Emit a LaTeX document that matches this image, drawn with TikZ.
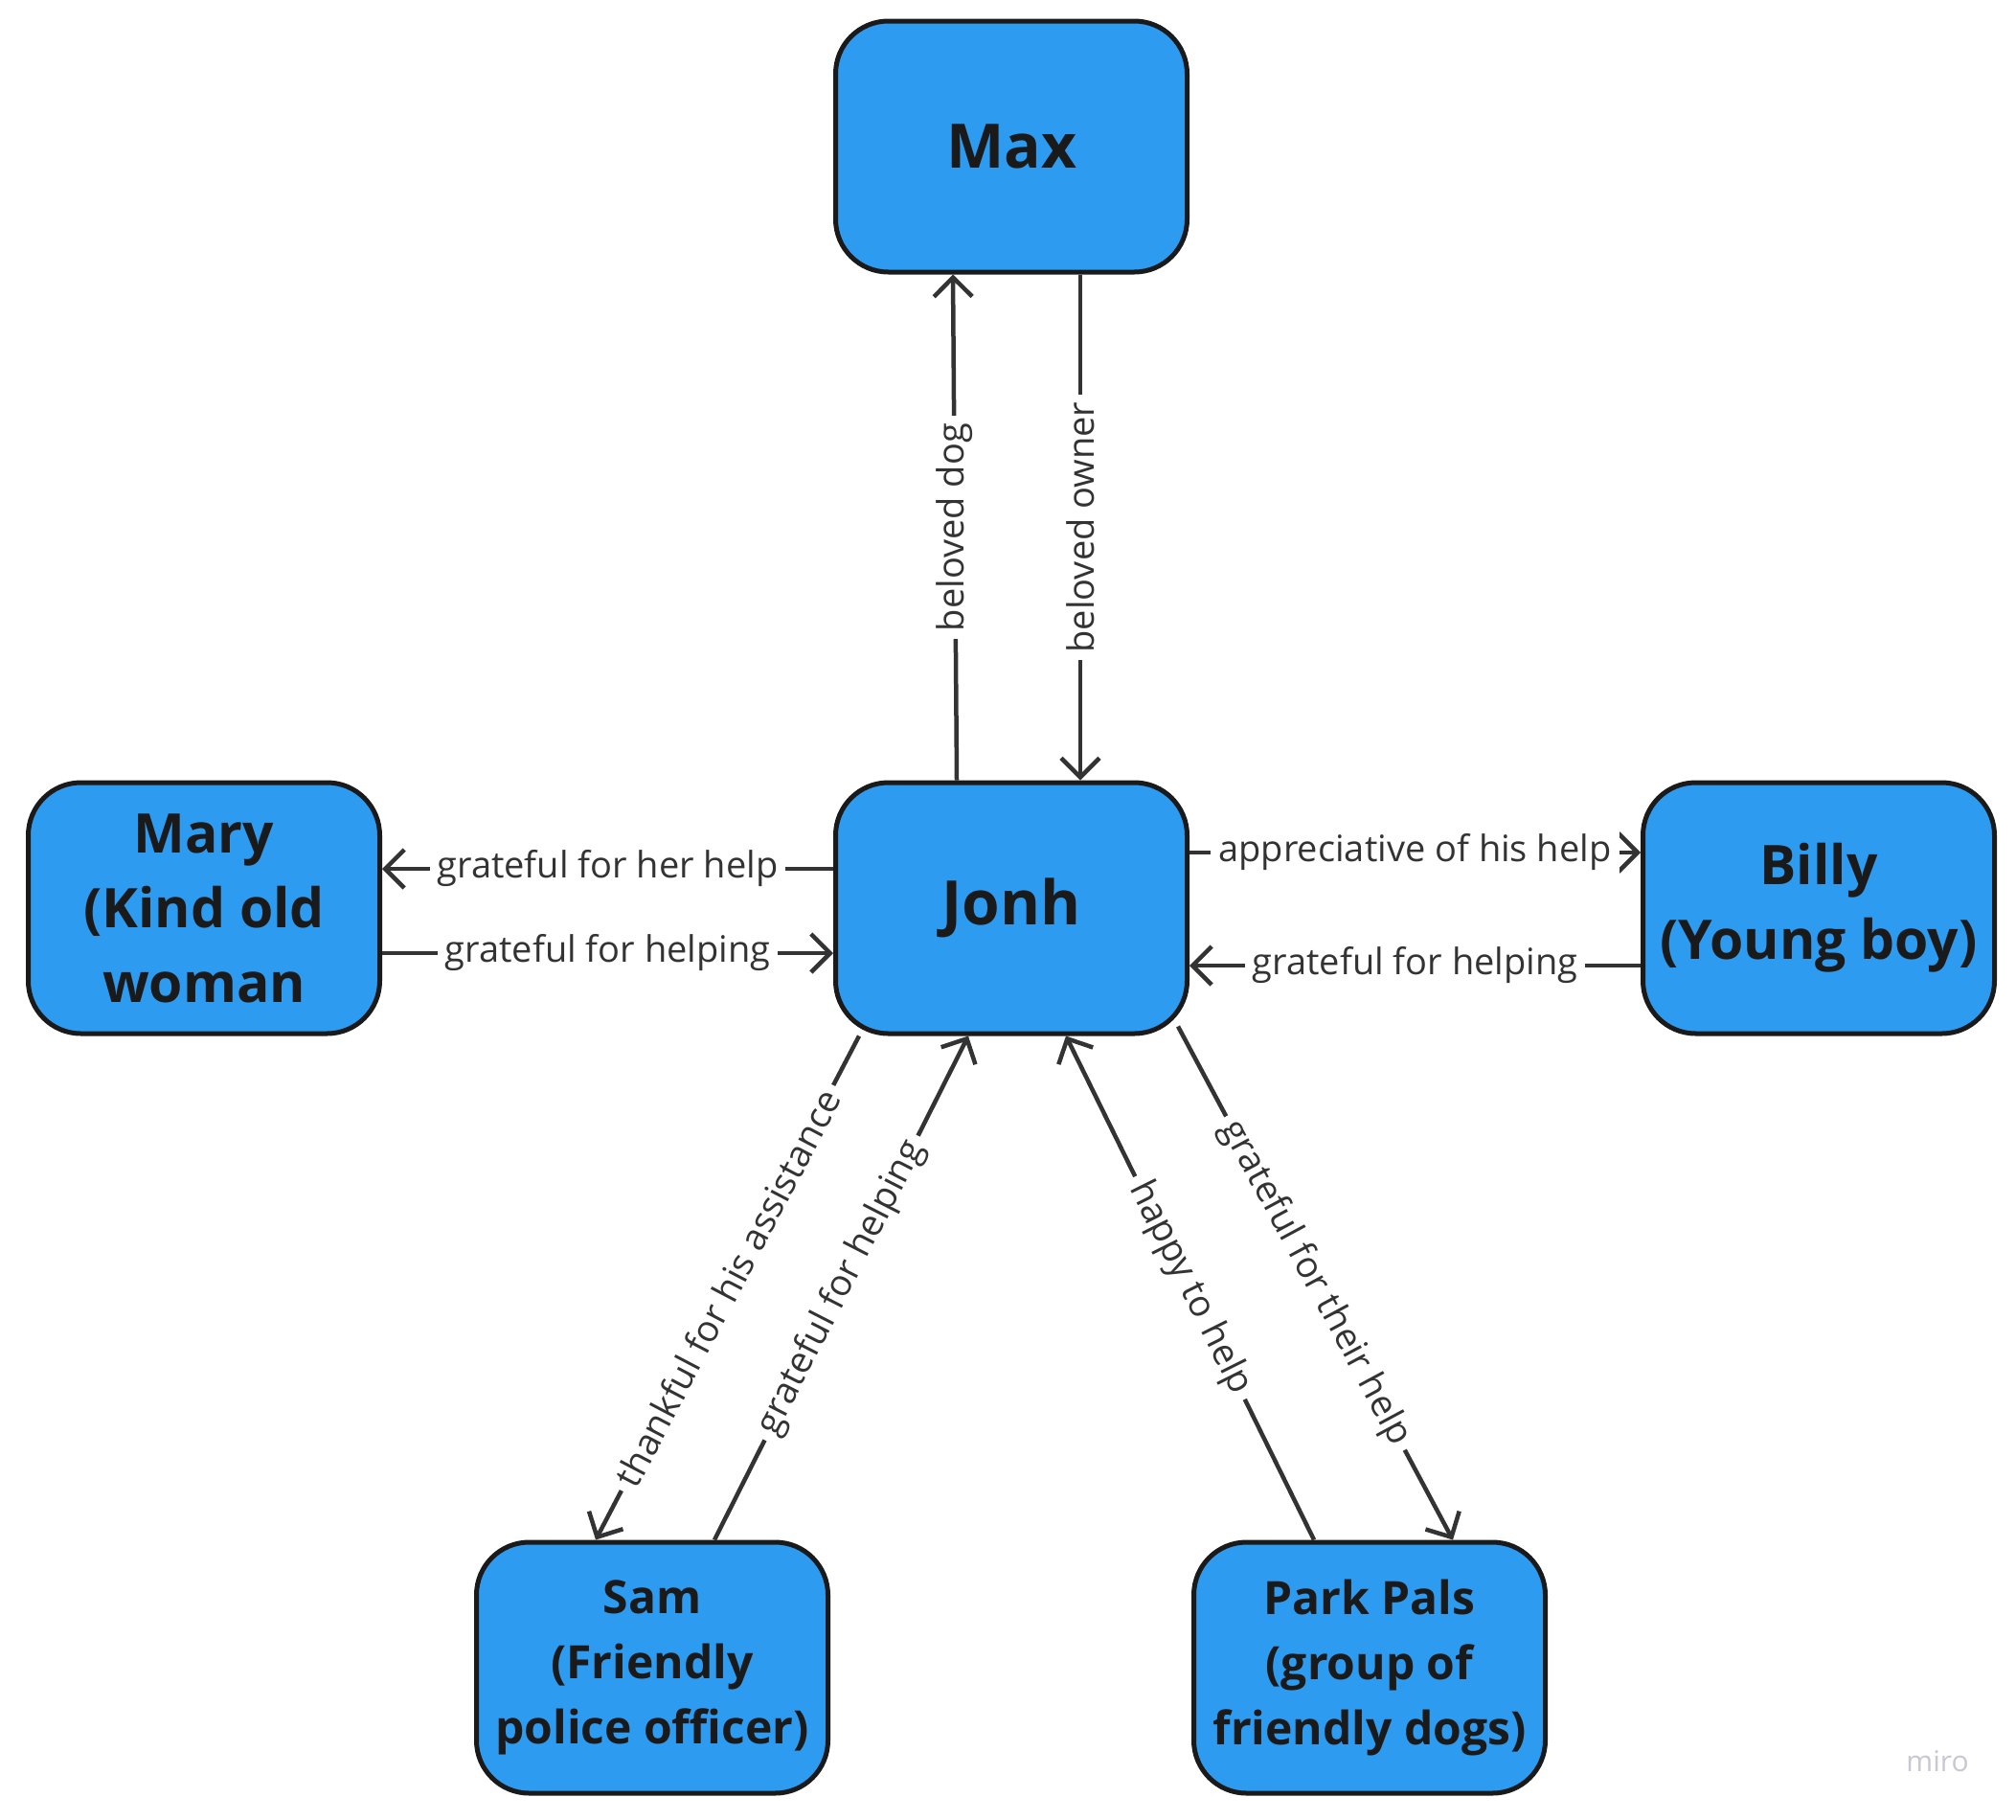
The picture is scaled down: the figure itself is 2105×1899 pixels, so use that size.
\documentclass[tikz,border=0pt]{standalone}
\usepackage{fontspec}
\setmainfont{Open Sans}
\usetikzlibrary{arrows.meta}
\definecolor{boxblue}{RGB}{45,155,240}
\definecolor{edgegray}{RGB}{51,51,51}
\definecolor{ink}{RGB}{26,26,26}
\definecolor{mirogray}{RGB}{200,200,212}
\begin{document}
\begin{tikzpicture}[x=1pt,y=-1pt,
 person/.style={draw=ink, line width=5pt, fill=boxblue, rounded corners=55pt,
   minimum width=367pt, minimum height=262pt, align=center, text=ink, inner sep=0pt},
 bigtxt/.style={font=\fontsize{64}{77}\selectfont\bfseries},
 midtxt/.style={font=\fontsize{57}{78}\selectfont\bfseries},
 smalltxt/.style={font=\fontsize{48}{68}\selectfont\bfseries},
 conn/.style={draw=edgegray, line width=4.5pt, -{Straight Barb[length=20pt,width=40pt]}},
 lbl/.style={fill=white, text=edgegray, font=\fontsize{38}{45}\selectfont, inner sep=8pt},
]
\path[fill=white] (0,0) rectangle (2105,1899);
\useasboundingbox (0,0) rectangle (2105,1899);

\node[person,bigtxt] (max) at (1056,153) {Max};
\node[person,bigtxt] (jonh) at (1056,948) {Jonh};
\node[person,midtxt] (mary) at (213,948) {Mary\\(Kind old\\woman};
\node[person,midtxt] (billy) at (1899,948) {Billy\\(Young boy)};
\node[person,smalltxt] (sam) at (681,1741) {Sam\\(Friendly\\police officer)};
\node[person,smalltxt] (park) at (1430,1741) {Park Pals\\(group of\\friendly dogs)};

% Max <-> Jonh
\draw[conn] ([xshift=-57pt]jonh.north) -- node[lbl,midway,rotate=90] {beloved dog} ([xshift=-61pt]max.south);
\draw[conn] ([xshift=72pt]max.south) -- node[lbl,midway,rotate=90] {beloved owner} ([xshift=72pt]jonh.north);

% Mary <-> Jonh
\draw[conn] ([yshift=41pt]jonh.west) -- node[lbl,midway] {grateful for her help} ([yshift=41pt]mary.east);
\draw[conn] ([yshift=-47pt]mary.east) -- node[lbl,midway] {grateful for helping} ([yshift=-47pt]jonh.west);

% Billy <-> Jonh
\draw[conn] ([yshift=58pt]jonh.east) -- node[lbl,midway] {appreciative of his help} ([yshift=58pt]billy.west);
\draw[conn] ([yshift=-60pt]billy.west) -- node[lbl,midway] {grateful for helping} ([yshift=-60pt]jonh.east);

% Sam <-> Jonh
\draw[conn] ([xshift=-159pt]jonh.south) -- node[lbl,midway,rotate=62.3] {thankful for his assistance} ([xshift=-59pt]sam.north);
\draw[conn] ([xshift=65pt]sam.north) -- node[lbl,midway,rotate=62.9] {grateful for helping} ([xshift=-45pt]jonh.south);

% Park Pals <-> Jonh
\draw[conn] ([xshift=-58pt]park.north) -- node[lbl,midway,rotate=-63.5] {happy to help} ([xshift=57pt]jonh.south);
\draw[conn] ([xshift=174pt,yshift=10pt]jonh.south) -- node[lbl,midway,rotate=-61.7] {grateful for their help} ([xshift=87pt]park.north);

\node[text=mirogray, font=\fontsize{30}{36}\selectfont] (miro) at (2023,1839) {miro};
\end{tikzpicture}
\end{document}
